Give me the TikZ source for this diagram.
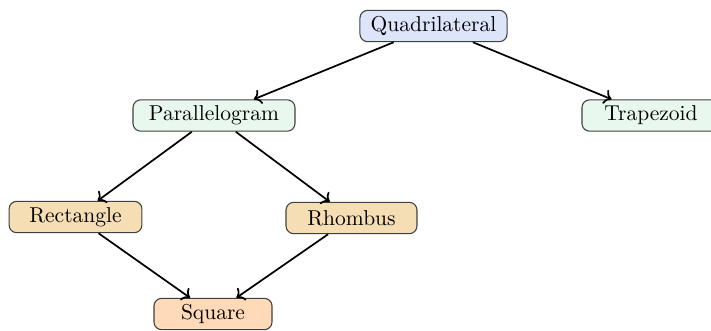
\documentclass[tikz,border=0pt]{standalone}
\usetikzlibrary{arrows.meta}
\definecolor{qblue}{RGB}{221,229,250}
\definecolor{pmint}{RGB}{232,248,239}
\definecolor{rtan}{RGB}{245,222,179}
\definecolor{speach}{RGB}{255,218,185}
\tikzset{
  box/.style={draw=black!75, line width=0.5pt, rounded corners=3.6pt, inner sep=0pt,
    minimum height=14.6pt, font=\normalsize},
  link/.style={->, line width=0.8pt},
}
\begin{document}
\begin{tikzpicture}[x=0.465pt, y=-0.465pt]
\useasboundingbox (0,0) rectangle (711,330);
\clip (0,0) rectangle (711,330);
\node[box, fill=qblue, minimum width=68.4pt] (q) at (433.5,26) {Quadrilateral};
\node[box, fill=pmint, minimum width=75.3pt] (p) at (214,115.5) {Parallelogram};
\node[box, fill=pmint, minimum width=64.2pt] (t) at (651,115.5) {Trapezoid};
\node[box, fill=rtan, minimum width=61.8pt] (r) at (75.5,217) {Rectangle};
\node[box, fill=rtan, minimum width=60.9pt] (h) at (351.5,218) {Rhombus};
\node[box, fill=speach, minimum width=54.9pt] (s) at (213,314) {Square};
\draw[link] (q) -- (p);
\draw[link] (q) -- (t);
\draw[link] (p) -- (r);
\draw[link] (p) -- (h);
\draw[link] (r) -- (s);
\draw[link] (h) -- (s);
\end{tikzpicture}
\end{document}
